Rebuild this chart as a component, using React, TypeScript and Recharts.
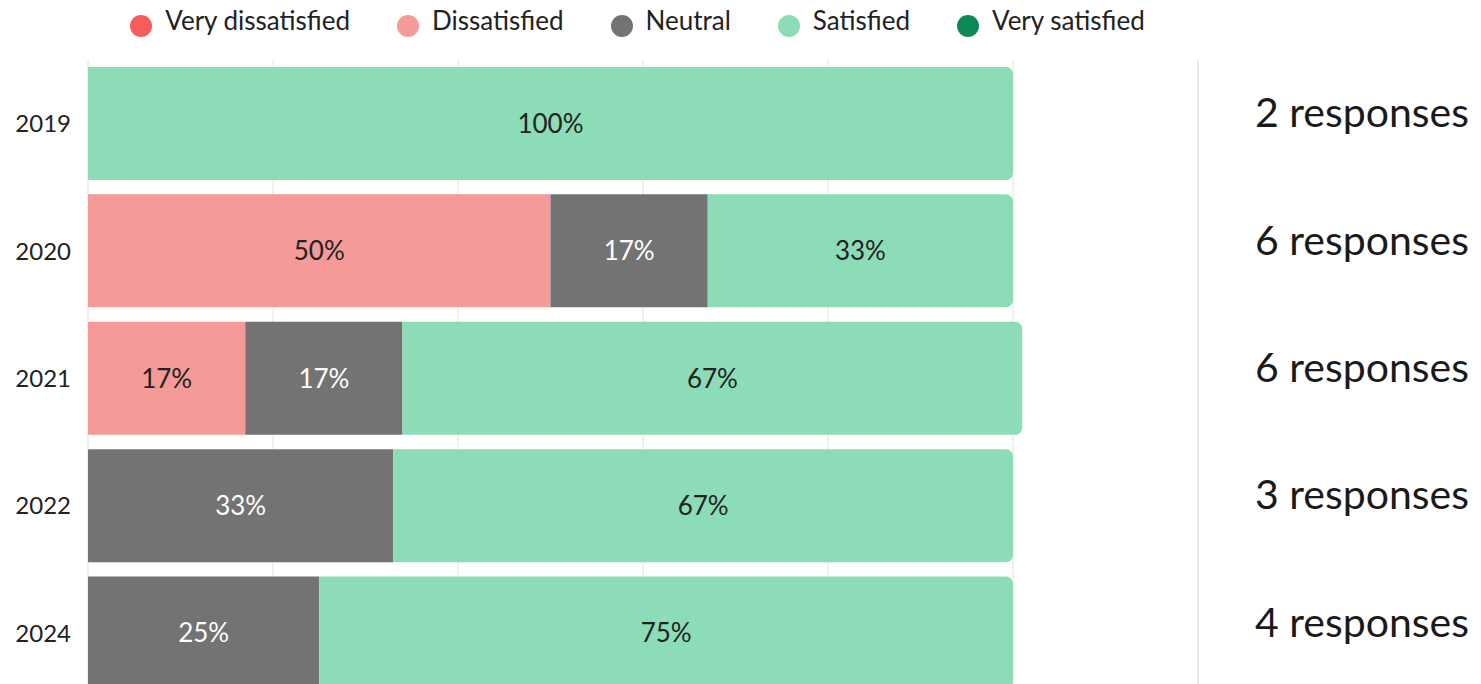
import React from 'react';
import { BarChart, Bar, XAxis, YAxis, CartesianGrid, Legend, LabelList } from 'recharts';

const years = ['2019', '2020', '2021', '2022', '2024'];
const veryDissatisfied = [0, 0, 0, 0, 0];
const dissatisfied = [0, 50, 17, 0, 0];
const neutral = [0, 17, 17, 33, 25];
const satisfied = [100, 33, 67, 67, 75];
const verySatisfied = [0, 0, 0, 0, 0];
const responses = [2, 6, 6, 3, 4];
const gridTicks = [0, 20, 40, 60, 80, 100];
const seriesNames = ['Very dissatisfied', 'Dissatisfied', 'Neutral', 'Satisfied', 'Very satisfied'];

const data = years.map((year, i) => ({
  year,
  veryDissatisfied: veryDissatisfied[i],
  dissatisfied: dissatisfied[i],
  neutral: neutral[i],
  satisfied: satisfied[i],
  verySatisfied: verySatisfied[i],
  responses: responses[i],
}));

const pct = (v: any) => (v > 0 ? `${v}%` : '');

export default function App() {
  return (
    <div style={{ position: 'absolute', left: 0, top: 0, fontFamily: 'Lato, sans-serif', background: '#fff' }}>
      <BarChart
        width={1481}
        height={697}
        data={data}
        layout="vertical"
        barSize={113}
        margin={{ top: 27, right: 0, bottom: 0, left: 0 }}
      >
        <CartesianGrid vertical horizontal={false} stroke="#e2e2e2" />
        <XAxis type="number" domain={[0, 120]} ticks={gridTicks} hide />
        <YAxis
          yAxisId="left"
          type="category"
          dataKey="year"
          width={88}
          axisLine={false}
          tickLine={false}
          tickMargin={11}
          tick={{ fill: '#222', fontSize: 24 }}
        />
        <YAxis
          yAxisId="right"
          orientation="right"
          type="category"
          dataKey="year"
          width={283}
          axisLine={{ stroke: '#e6e6e6' }}
          tickLine={false}
          tickSize={0}
          tickMargin={57}
          tick={{ fill: '#1a1a1a', fontSize: 41, dy: -11 }}
          tickFormatter={(_v: any, i: number) => `${responses[i]} responses`}
        />
        <Legend
          verticalAlign="top"
          iconType="circle"
          iconSize={22}
          itemSorter={(item: any) => seriesNames.indexOf(item.value)}
          wrapperStyle={{ top: 4, left: 88, width: 1146 }}
          formatter={(value: any) => (
            <span style={{ color: '#222', fontSize: 26, marginLeft: 9, marginRight: 37 }}>{value}</span>
          )}
        />
        <Bar yAxisId="left" dataKey="veryDissatisfied" name={seriesNames[0]} stackId="a" fill="#f75c5c" isAnimationActive={false}>
          <LabelList dataKey="veryDissatisfied" position="center" formatter={pct} fill="#222" fontSize={26} />
        </Bar>
        <Bar yAxisId="left" dataKey="dissatisfied" name={seriesNames[1]} stackId="a" fill="#f49a98" isAnimationActive={false}>
          <LabelList dataKey="dissatisfied" position="center" formatter={pct} fill="#222" fontSize={26} />
        </Bar>
        <Bar yAxisId="left" dataKey="neutral" name={seriesNames[2]} stackId="a" fill="#737373" isAnimationActive={false}>
          <LabelList dataKey="neutral" position="center" formatter={pct} fill="#fff" fontSize={26} />
        </Bar>
        <Bar yAxisId="left" dataKey="satisfied" name={seriesNames[3]} stackId="a" fill="#8ddcb8" radius={[0, 7, 7, 0]} isAnimationActive={false}>
          <LabelList dataKey="satisfied" position="center" formatter={pct} fill="#222" fontSize={26} />
        </Bar>
        <Bar yAxisId="left" dataKey="verySatisfied" name={seriesNames[4]} stackId="a" fill="#0b8a57" isAnimationActive={false}>
          <LabelList dataKey="verySatisfied" position="center" formatter={pct} fill="#222" fontSize={26} />
        </Bar>
      </BarChart>
    </div>
  );
}
